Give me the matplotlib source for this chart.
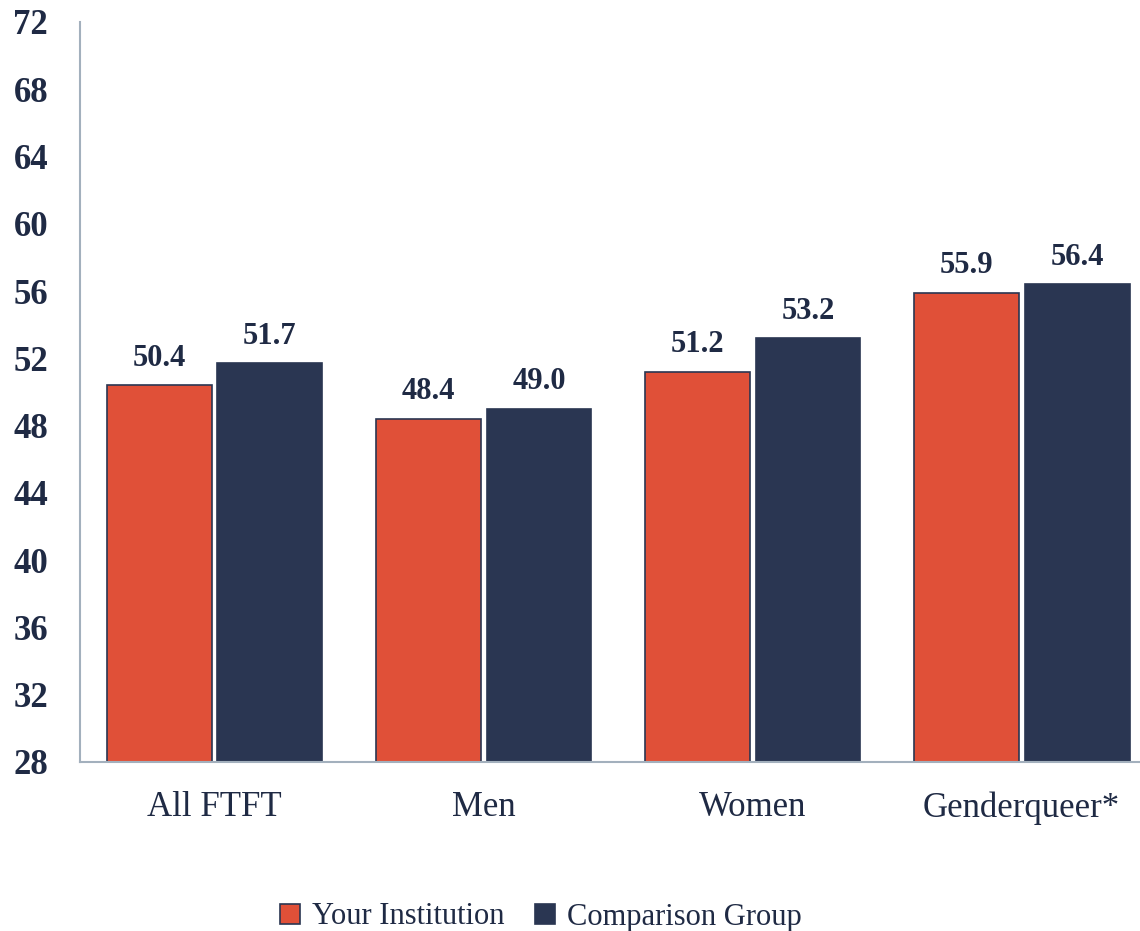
import matplotlib.pyplot as plt
import numpy as np

categories = ['All FTFT', 'Men', 'Women', 'Genderqueer*']
your_inst = [50.4, 48.4, 51.2, 55.9]
comparison = [51.7, 49.0, 53.2, 56.4]
yticks = [28, 32, 36, 40, 44, 48, 52, 56, 60, 64, 68, 72]

orange = '#E05038'
navy = '#2A3652'
text_col = '#1F2A44'
spine_col = '#A3B0BD'
serif = ['Liberation Serif', 'DejaVu Serif']

fig = plt.figure(figsize=[11.4, 9.31], dpi=100)
ax = fig.add_axes([80/1140, 1 - 762/931, 1060/1140, 740/931])

x = np.arange(len(categories))
w = 0.39
off = 0.206
b1 = ax.bar(x - off, your_inst, w, bottom=0, color=orange, edgecolor=navy, lw=1.2, label='Your Institution')
b2 = ax.bar(x + off, comparison, w, bottom=0, color=navy, edgecolor=navy, lw=1.2, label='Comparison Group')

for bars, vals in [(b1, your_inst), (b2, comparison)]:
    for r, v in zip(bars, vals):
        ax.text(r.get_x() + r.get_width()/2, v + 0.75, '%.1f' % v, ha='center', va='bottom',
                fontsize=22, fontweight='bold', color=text_col, family=serif)

ax.set_ylim(28, 72)
ax.set_xlim(-0.5, 3.44)
ax.set_yticks(yticks)
ax.set_yticklabels([str(t) for t in yticks], fontsize=25, fontweight='bold', color=text_col, family=serif)
ax.set_xticks(x)
ax.set_xticklabels(categories, fontsize=25, color=text_col, family=serif)
ax.tick_params(axis='y', length=0, pad=23)
ax.tick_params(axis='x', length=0, pad=21)

for s in ['top', 'right']:
    ax.spines[s].set_visible(False)
ax.spines['left'].set_color(spine_col)
ax.spines['bottom'].set_color(spine_col)
ax.spines['left'].set_linewidth(1.5)
ax.spines['bottom'].set_linewidth(1.5)

leg = fig.legend(handles=[b1, b2], loc='center', bbox_to_anchor=(541/1140, 1 - 917/931), ncol=2,
                 frameon=False, handlelength=0.65, handleheight=0.65, handletextpad=0.4, columnspacing=1.0,
                 prop={'family': serif, 'size': 22})
for t in leg.get_texts():
    t.set_color(text_col)

fig.savefig('out.png', dpi=100)
